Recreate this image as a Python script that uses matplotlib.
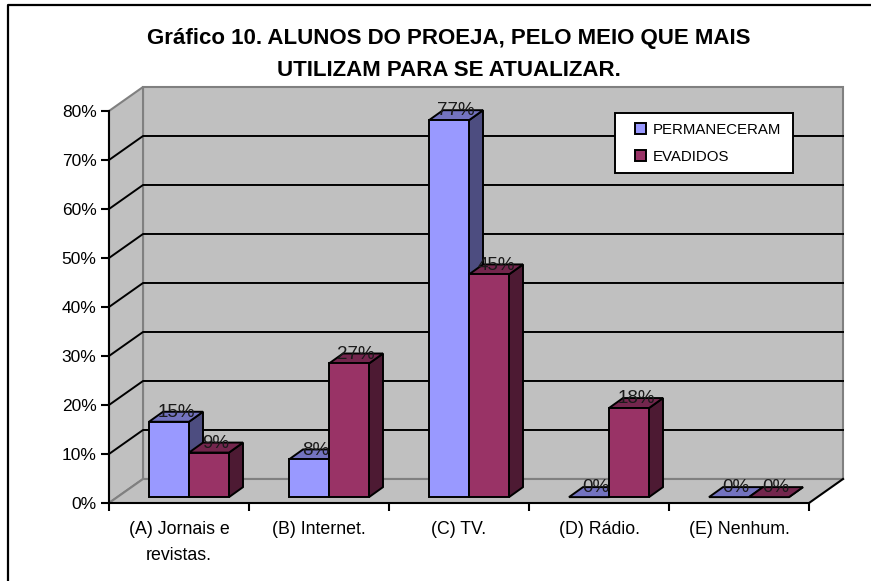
import matplotlib
matplotlib.use('Agg')
import matplotlib.pyplot as plt
from matplotlib.patches import Polygon, Rectangle, Patch

plt.rcParams['font.family'] = ['Liberation Sans', 'DejaVu Sans']

# dados
categorias = ['(A) Jornais e\nrevistas.', '(B) Internet.', '(C) TV.', '(D) Rádio.', '(E) Nenhum.']
permaneceram = [15.38, 7.69, 76.92, 0, 0]
evadidos = [9.09, 27.27, 45.45, 18.18, 0]
nomes = ['PERMANECERAM', 'EVADIDOS']
y_ticks = [0, 10, 20, 30, 40, 50, 60, 70, 80]
titulo = 'Gráfico 10. ALUNOS DO PROEJA, PELO MEIO QUE MAIS\nUTILIZAM PARA SE ATUALIZAR.'

W, H = 871, 581
fig = plt.figure(figsize=(W / 100, H / 100), dpi=100)
# moldura só em cima e à esquerda
fig.add_artist(plt.Line2D([8 / W, 8 / W, 1], [0, 1 - 5 / H, 1 - 5 / H], color='black', lw=1.6))

# eixo frontal em pixels: x 109-809, y 503-111
ax = fig.add_axes([109 / W, (H - 503) / H, 700 / W, 392 / H])
ax.set_xlim(0, 5)
ax.set_ylim(0, 80)
ax.patch.set_visible(False)

# profundidade do "3D"
wall_dx, wall_dy = 0.243, 4.9
bar_dx, bar_dy = 0.1, 2.04
base = 1.2
bar_w = 0.2857
gap = 0.2857

cinza = '#C0C0C0'
borda = '#808080'

# paredes e chão
ax.add_patch(Rectangle((wall_dx, wall_dy), 5, 80, fc=cinza, ec=borda, lw=1.5, clip_on=False, zorder=1))
ax.add_patch(Polygon([(0, 0), (wall_dx, wall_dy), (wall_dx, 80 + wall_dy), (0, 80)],
                     fc=cinza, ec=borda, lw=1.5, clip_on=False, zorder=1))
ax.add_patch(Polygon([(0, 0), (5, 0), (5 + wall_dx, wall_dy), (wall_dx, wall_dy)],
                     fc=cinza, ec='none', clip_on=False, zorder=1))
ax.plot([0, wall_dx, 5 + wall_dx], [0, wall_dy, wall_dy], color=borda, lw=1.5, zorder=1.5, clip_on=False)
ax.plot([5, 5 + wall_dx], [0, wall_dy], color='black', lw=1.5, zorder=1.5, clip_on=False)

# linhas de grade
for t in y_ticks[1:-1]:
    ax.plot([0, wall_dx, 5 + wall_dx], [t, t + wall_dy, t + wall_dy], color='black', lw=1.4,
            zorder=2, clip_on=False)


def barra3d(x, v, frente, topo, lado, z):
    y0 = base
    y1 = base + v
    ax.add_patch(Polygon([(x + bar_w, y0), (x + bar_w + bar_dx, y0 + bar_dy),
                          (x + bar_w + bar_dx, y1 + bar_dy), (x + bar_w, y1)],
                         fc=lado, ec='black', lw=1.4, zorder=z, clip_on=False))
    ax.add_patch(Polygon([(x, y1), (x + bar_dx, y1 + bar_dy),
                          (x + bar_w + bar_dx, y1 + bar_dy), (x + bar_w, y1)],
                         fc=topo, ec='black', lw=1.4, zorder=z, clip_on=False))
    if v > 0:
        ax.bar(x, v, bar_w, bottom=base, align='edge', color=frente, edgecolor='black',
               linewidth=1.4, zorder=z, clip_on=False)
    ax.text(x + bar_w / 2 + 0.05, y1 + 1.9, f'{v:.0f}%', ha='center', va='center',
            fontsize=13.5, color='#1a1a1a', zorder=20, clip_on=False)


for i in range(len(categorias)):
    barra3d(i + gap, permaneceram[i], '#9999FF', '#7373BF', '#4D4D80', 3 + i)
    barra3d(i + gap + bar_w, evadidos[i], '#993366', '#73264D', '#4D1A33', 3.5 + i)

# eixos
for lado in ['top', 'right']:
    ax.spines[lado].set_visible(False)
for lado in ['left', 'bottom']:
    ax.spines[lado].set_linewidth(1.5)
    ax.spines[lado].set_zorder(2.5)
ax.set_yticks(y_ticks)
ax.set_yticklabels([f'{t}%' for t in y_ticks], fontsize=12.5)
ax.set_xticks(range(6))
ax.set_xticklabels([])
ax.set_xticks([i + 0.5 for i in range(5)], categorias, minor=True, fontsize=12.8, linespacing=1.65)
ax.tick_params(axis='x', which='minor', length=0, pad=13)
ax.tick_params(axis='both', which='major', length=6, width=1.5)
ax.tick_params(axis='y', pad=3)

# legenda: caixa desenhada à parte porque o respiro é maior à esquerda
ax.add_patch(Rectangle(((615 - 109) / 140, (503 - 173) / 4.9), 178 / 140, 60 / 4.9, fc='white',
                       ec='black', lw=1.4, zorder=29, clip_on=False))
handles = [Patch(fc='#9999FF', ec='black', lw=1.4, label=nomes[0]),
           Patch(fc='#993366', ec='black', lw=1.4, label=nomes[1])]
leg = ax.legend(handles=handles, loc='upper left', bbox_to_anchor=((635 - 109) / 700, (503 - 123) / 392),
                fontsize=10.8, frameon=False, borderaxespad=0, borderpad=0,
                handlelength=0.75, handleheight=0.75, handletextpad=0.45, labelspacing=0.85)
leg.set_zorder(30)

fig.text(448.5 / W, 1 - 54.5 / H, titulo, ha='center', va='center', fontsize=16, fontweight='bold',
         linespacing=1.65)

fig.savefig('out.png', dpi=100)
